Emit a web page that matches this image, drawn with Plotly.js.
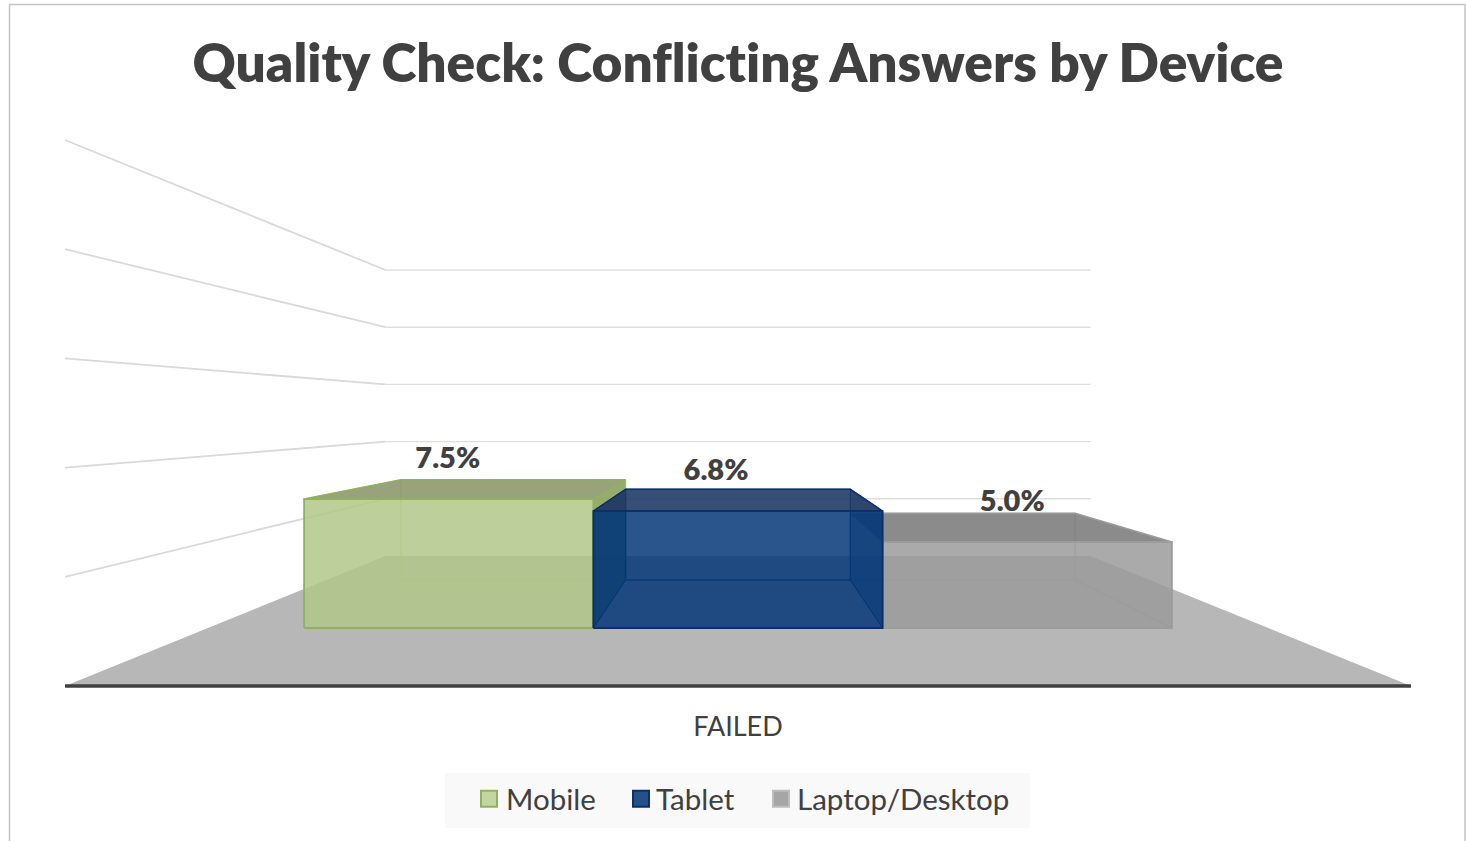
<!DOCTYPE html>
<html>
<head>
<meta charset="utf-8">
<title>Quality Check: Conflicting Answers by Device</title>
<script src="https://cdn.plot.ly/plotly-3.0.1.min.js"></script>
<style>
html,body{margin:0;padding:0;background:#fff;overflow:hidden}
#chart{width:1466px;height:841px}
#chart text{font-variant-ligatures:none;font-feature-settings:"liga" 0,"clig" 0,"dlig" 0}
.legend .legendpoints{transform:translateX(3px)}
.legend2 .legendpoints{transform:translateX(5px)}
.legend3 .legendpoints{transform:translateX(4px)}
</style>
</head>
<body>
<div id="chart"></div>
<script>
// Chart values
const chartTitle = 'Quality Check: Conflicting Answers by Device';
const categoryLabel = 'FAILED';
const seriesNames = ['Mobile', 'Tablet', 'Laptop/Desktop'];
const seriesValues = [7.5, 6.8, 5.0];
const gridValues = [5, 10, 15, 20, 25];

// One-point perspective of the 3D box: s = 1 on the front edge of the floor
const CX = 738, HORIZON = 413, FLOOR_FRONT = 686;
const HALF_W = 673, PX_PER_PCT = 21.84;
const S_BACK = 0.5238, S_BAR_FRONT = 0.7875, S_BAR_BACK = 0.6117;
const BAR_W = 367.3;
const project = (wx, v, s) => [
  CX + wx * s,
  HORIZON + (FLOOR_FRONT - HORIZON) * s - v * PX_PER_PCT * s
];

// Face styling per series, in series order
const barStyles = [
  { back: 'rgba(178,200,138,0.25)', front: 'rgba(178,200,138,0.80)', top: 'rgba(138,149,104,0.85)',
    left: 'rgba(178,200,138,0.25)', right: 'rgba(140,165,95,0.90)', bottom: 'rgba(178,200,138,0.25)',
    edge: '#8FB25A', inner: 'rgba(150,185,95,0.45)', swatch: '#C3D5A0', swatchLine: '#8FB25A' },
  { back: 'rgba(2,55,120,0.25)', front: 'rgba(2,55,120,0.80)', top: 'rgba(30,55,100,0.85)',
    left: 'rgba(0,45,100,0.50)', right: 'rgba(0,45,100,0.50)', bottom: 'rgba(2,55,120,0.25)',
    edge: '#0B2F66', inner: 'rgba(5,50,115,0.8)', swatch: '#25508C', swatchLine: '#0B2F66' },
  { back: 'rgba(155,155,155,0.25)', front: 'rgba(155,155,155,0.80)', top: 'rgba(122,122,122,0.85)',
    left: 'rgba(155,155,155,0.25)', right: 'rgba(155,155,155,0.25)', bottom: 'rgba(155,155,155,0.25)',
    edge: '#9C9C9C', inner: 'rgba(140,140,140,0.4)', swatch: '#A6A6A6', swatchLine: '#BDBDBD' }
];

const traces = [];
const polyline = (pts, color, width) => traces.push({
  x: pts.map(p => p[0]), y: pts.map(p => p[1]), mode: 'lines',
  line: { color, width }, hoverinfo: 'skip', showlegend: false
});
const face = (pts, fill, edge, width) => {
  const closed = pts.concat([pts[0]]);
  traces.push({
    x: closed.map(p => p[0]), y: closed.map(p => p[1]), mode: 'lines', fill: 'toself',
    fillcolor: fill, line: { color: edge, width }, hoverinfo: 'skip', showlegend: false
  });
};

// Wall gridlines: left wall, then along the back wall
gridValues.forEach(v => {
  polyline([project(-HALF_W, v, 1), project(-HALF_W, v, S_BACK)], '#D9D9D9', 1.8);
  polyline([project(-HALF_W, v, S_BACK), project(HALF_W, v, S_BACK)], '#DEDEDE', 1.4);
});

// Floor and front axis line
face([project(-HALF_W, 0, 1), project(HALF_W, 0, 1), project(HALF_W, 0, S_BACK), project(-HALF_W, 0, S_BACK)],
  '#B7B7B7', 'rgba(0,0,0,0)', 0);
polyline([project(-HALF_W, 0, 1), project(HALF_W, 0, 1)], '#404040', 3.6);

// Bars, back faces first; the far-right bar is laid down first because the others show over it
[2, 0, 1].forEach(i => {
  const v = seriesValues[i], st = barStyles[i];
  const x0 = (i - 1.5) * BAR_W, x1 = x0 + BAR_W;
  const F = S_BAR_FRONT, B = S_BAR_BACK;
  face([project(x0, 0, B), project(x1, 0, B), project(x1, v, B), project(x0, v, B)], st.back, st.inner, 1);
  face([project(x0, 0, F), project(x1, 0, F), project(x1, 0, B), project(x0, 0, B)], st.bottom, st.inner, 1);
  face([project(x0, 0, F), project(x0, 0, B), project(x0, v, B), project(x0, v, F)], st.left, st.inner, 1);
  face([project(x1, 0, F), project(x1, 0, B), project(x1, v, B), project(x1, v, F)], st.right, st.inner, 1);
  face([project(x0, v, F), project(x1, v, F), project(x1, v, B), project(x0, v, B)], st.top, st.edge, 1.5);
  face([project(x0, 0, F), project(x1, 0, F), project(x1, v, F), project(x0, v, F)], st.front, st.edge, 1.8);
});

// Value labels sit a fixed height above each bar's front edge
const labelShiftX = [-1, -22, -15];
const labelLift = 38;
traces.push({
  x: seriesValues.map((v, i) => project((i - 1) * BAR_W, v, S_BAR_FRONT)[0] + labelShiftX[i]),
  y: seriesValues.map(v => project(0, v, S_BAR_FRONT)[1] - labelLift),
  text: seriesValues.map(v => v.toFixed(1) + '%'),
  mode: 'text', textposition: 'middle center',
  textfont: { family: 'Lato, sans-serif', size: 29, color: '#404040', weight: 800 },
  hoverinfo: 'skip', showlegend: false
});

// Category label under the front axis
traces.push({
  x: [CX], y: [729], text: [categoryLabel], mode: 'text', textposition: 'middle center',
  textfont: { family: 'Lato, sans-serif', size: 27, color: '#404040' },
  hoverinfo: 'skip', showlegend: false
});

// Legend entries, one legend box per series so the gaps between them can be set
const legendIds = ['legend', 'legend2', 'legend3'];
const legendTextStart = [507, 657, 798];
seriesNames.forEach((name, i) => traces.push({
  x: [null], y: [null], name, mode: 'markers', showlegend: true, legend: legendIds[i],
  marker: { symbol: 'square', size: 16, color: barStyles[i].swatch, line: { color: barStyles[i].swatchLine, width: 2 } }
}));

const layout = {
  width: 1466, height: 841,
  margin: { l: 0, r: 0, t: 0, b: 0 },
  paper_bgcolor: '#FFFFFF', plot_bgcolor: 'rgba(0,0,0,0)',
  title: {
    text: chartTitle, x: 738 / 1466, xanchor: 'center', y: 1 - 63 / 841, yanchor: 'middle',
    font: { family: 'Lato, sans-serif', size: 53.2, color: '#404040', weight: 800 }
  },
  xaxis: { range: [0, 1466], visible: false, fixedrange: true },
  yaxis: { range: [841, 0], visible: false, fixedrange: true },
  showlegend: true,
  shapes: [
    { type: 'rect', xref: 'x', yref: 'y', x0: 445, x1: 1030, y0: 773, y1: 828, fillcolor: '#F9F9F9', line: { width: 0 }, layer: 'below' },
    { type: 'path', xref: 'x', yref: 'y', path: 'M9.5,841 L9.5,4.5 L1465,4.5 L1465,841', line: { color: '#C4C4C4', width: 1.5 }, layer: 'below' }
  ]
};
legendIds.forEach((id, i) => {
  layout[id] = {
    orientation: 'h', x: (legendTextStart[i] - 41) / 1466, xanchor: 'left', y: 1 - 799 / 841, yanchor: 'middle',
    bgcolor: 'rgba(0,0,0,0)', borderwidth: 0,
    font: { family: 'Lato, sans-serif', size: 29.5, color: '#404040' },
    itemsizing: 'trace', itemclick: false, itemdoubleclick: false
  };
});

Plotly.newPlot('chart', traces, layout, { displayModeBar: false, staticPlot: true });
</script>
</body>
</html>
